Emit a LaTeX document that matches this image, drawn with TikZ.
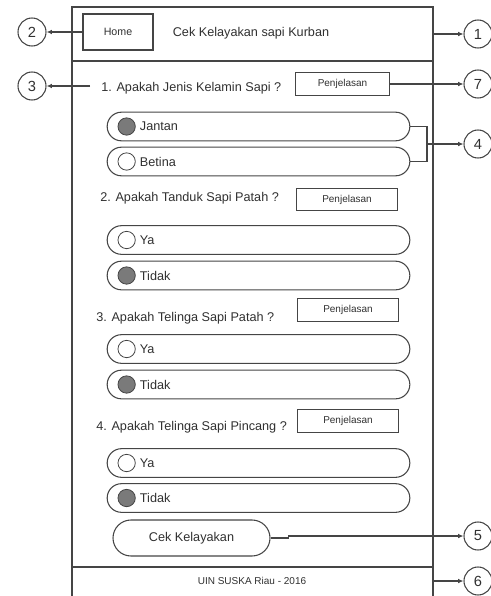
\documentclass[tikz,border=0pt]{standalone}
\usepackage{fontspec}
\setmainfont{Liberation Sans}
\usetikzlibrary{shapes.misc}
\usetikzlibrary{arrows.meta}

\definecolor{lineGray}{HTML}{454545}
\definecolor{textGray}{HTML}{303030}
\definecolor{radioGray}{HTML}{7A7A7A}

\tikzset{
  pill/.style={draw=lineGray, line width=0.8pt, rounded rectangle, minimum width=227pt, minimum height=21.5pt, inner sep=0pt},
  radio/.style={draw=lineGray, line width=0.6pt, circle, minimum size=13pt, inner sep=0pt},
  radioon/.style={radio, fill=radioGray},
  optlabel/.style={anchor=west, inner sep=3pt, text=textGray, font=\fontsize{9.5}{11}\selectfont},
  question/.style={anchor=west, inner sep=0.75pt, text=textGray, font=\fontsize{9.5}{11}\selectfont},
  infobox/.style={draw=lineGray, line width=0.8pt, minimum width=76pt, minimum height=17pt, inner sep=0pt, text=textGray, font=\fontsize{7.5}{9}\selectfont},
  callout/.style={draw=lineGray, line width=0.8pt, circle, minimum size=21pt, inner sep=0pt, text=textGray, font=\fontsize{11}{13}\selectfont},
  pointer/.style={draw=lineGray, line width=0.8pt, -{Latex[length=4pt,width=3.5pt]}},
}

\begin{document}
\begin{tikzpicture}[x=0.75pt,y=0.75pt,yscale=-1,xscale=1]
\useasboundingbox (0,0) rectangle (491,596);

%Frame
\draw [lineGray, line width=0.8pt]  (72,596) -- (72,7) -- (433,7) -- (433,596) ;
\draw [lineGray, line width=0.8pt]  (72,61) -- (433,61) ;
\draw [lineGray, line width=0.8pt]  (72,567) -- (433,567) ;

% Header
\node [draw=lineGray, line width=0.8pt, minimum width=52.5pt, minimum height=27pt, inner sep=0pt, text=textGray, font=\fontsize{8}{9}\selectfont] (home) at (118,32) {Home};
\node [text=textGray, font=\fontsize{9.5}{11}\selectfont] (title) at (251,33) {Cek Kelayakan sapi Kurban};

% Question 1
\node [question] (q1) at (100,88) {1. Apakah Jenis Kelamin Sapi ?};
\node [infobox, minimum width=70pt] (pj1) at (342.5,84) {Penjelasan};
\node [pill] (jantan) at (258.5,126.5) {};
\node [radioon] (rjantan) at ([xshift=15pt]jantan.west) {};
\node [optlabel] at (rjantan.east) {Jantan};
\node [pill] (betina) at (258.5,161.5) {};
\node [radio] (rbetina) at ([xshift=15pt]betina.west) {};
\node [optlabel] at (rbetina.east) {Betina};

% Question 2
\node [question] (q2) at (99,198) {2. Apakah Tanduk Sapi Patah ?};
\node [infobox] (pj2) at (347,199.5) {Penjelasan};
\node [pill] (ya2) at (258.5,240) {};
\node [radio] (rya2) at ([xshift=15pt]ya2.west) {};
\node [optlabel] at (rya2.east) {Ya};
\node [pill] (tidak2) at (258.5,275.5) {};
\node [radioon] (rtidak2) at ([xshift=15pt]tidak2.west) {};
\node [optlabel] at (rtidak2.east) {Tidak};

% Question 3
\node [question] (q3) at (95,318) {3. Apakah Telinga Sapi Patah ?};
\node [infobox] (pj3) at (348,310) {Penjelasan};
\node [pill] (ya3) at (258.5,349) {};
\node [radio] (rya3) at ([xshift=15pt]ya3.west) {};
\node [optlabel] at (rya3.east) {Ya};
\node [pill] (tidak3) at (258.5,384.5) {};
\node [radioon] (rtidak3) at ([xshift=15pt]tidak3.west) {};
\node [optlabel] at (rtidak3.east) {Tidak};

% Question 4
\node [question] (q4) at (95,427) {4. Apakah Telinga Sapi Pincang ?};
\node [infobox] (pj4) at (348,421) {Penjelasan};
\node [pill] (ya4) at (258.5,463) {};
\node [radio] (rya4) at ([xshift=15pt]ya4.west) {};
\node [optlabel] at (rya4.east) {Ya};
\node [pill] (tidak4) at (258.5,498) {};
\node [radioon] (rtidak4) at ([xshift=15pt]tidak4.west) {};
\node [optlabel] at (rtidak4.east) {Tidak};

% Button and footer
\node [pill, minimum width=117.75pt, minimum height=27pt, text=textGray, font=\fontsize{9.5}{11}\selectfont] (cek) at (191.5,538) {Cek Kelayakan};
\node [text=textGray, font=\fontsize{7.5}{9}\selectfont] (footer) at (252,581) {UIN SUSKA Riau - 2016};

% Callouts
\node [callout] (n1) at (478,34) {1};
\node [callout] (n2) at (32,32) {2};
\node [callout] (n3) at (32,86) {3};
\node [callout] (n4) at (478,144) {4};
\node [callout] (n5) at (478,536) {5};
\node [callout] (n6) at (478,581) {6};
\node [callout] (n7) at (478,84) {7};

\coordinate (e1) at (433,34);
\coordinate (e3) at (90,86);
\coordinate (e4) at (427,144);
\coordinate (e6) at (433,581);

%Pointers
\draw [pointer] (e1) -- (n1.west) ;
\draw [pointer] (home.west) -- (n2.east) ;
\draw [pointer] (e3) -- (n3.east) ;
\draw [lineGray, line width=0.8pt] (jantan.east) -| (e4) ;
\draw [lineGray, line width=0.8pt] (betina.east) -| (e4) ;
\draw [pointer] (e4) -- (n4.west) ;
\draw [pointer] (cek.east) -- ++(18,0) |- (n5.west) ;
\draw [pointer] (e6) -- (n6.west) ;
\draw [pointer] (pj1.east) -- (n7.west) ;

\end{tikzpicture}
\end{document}
